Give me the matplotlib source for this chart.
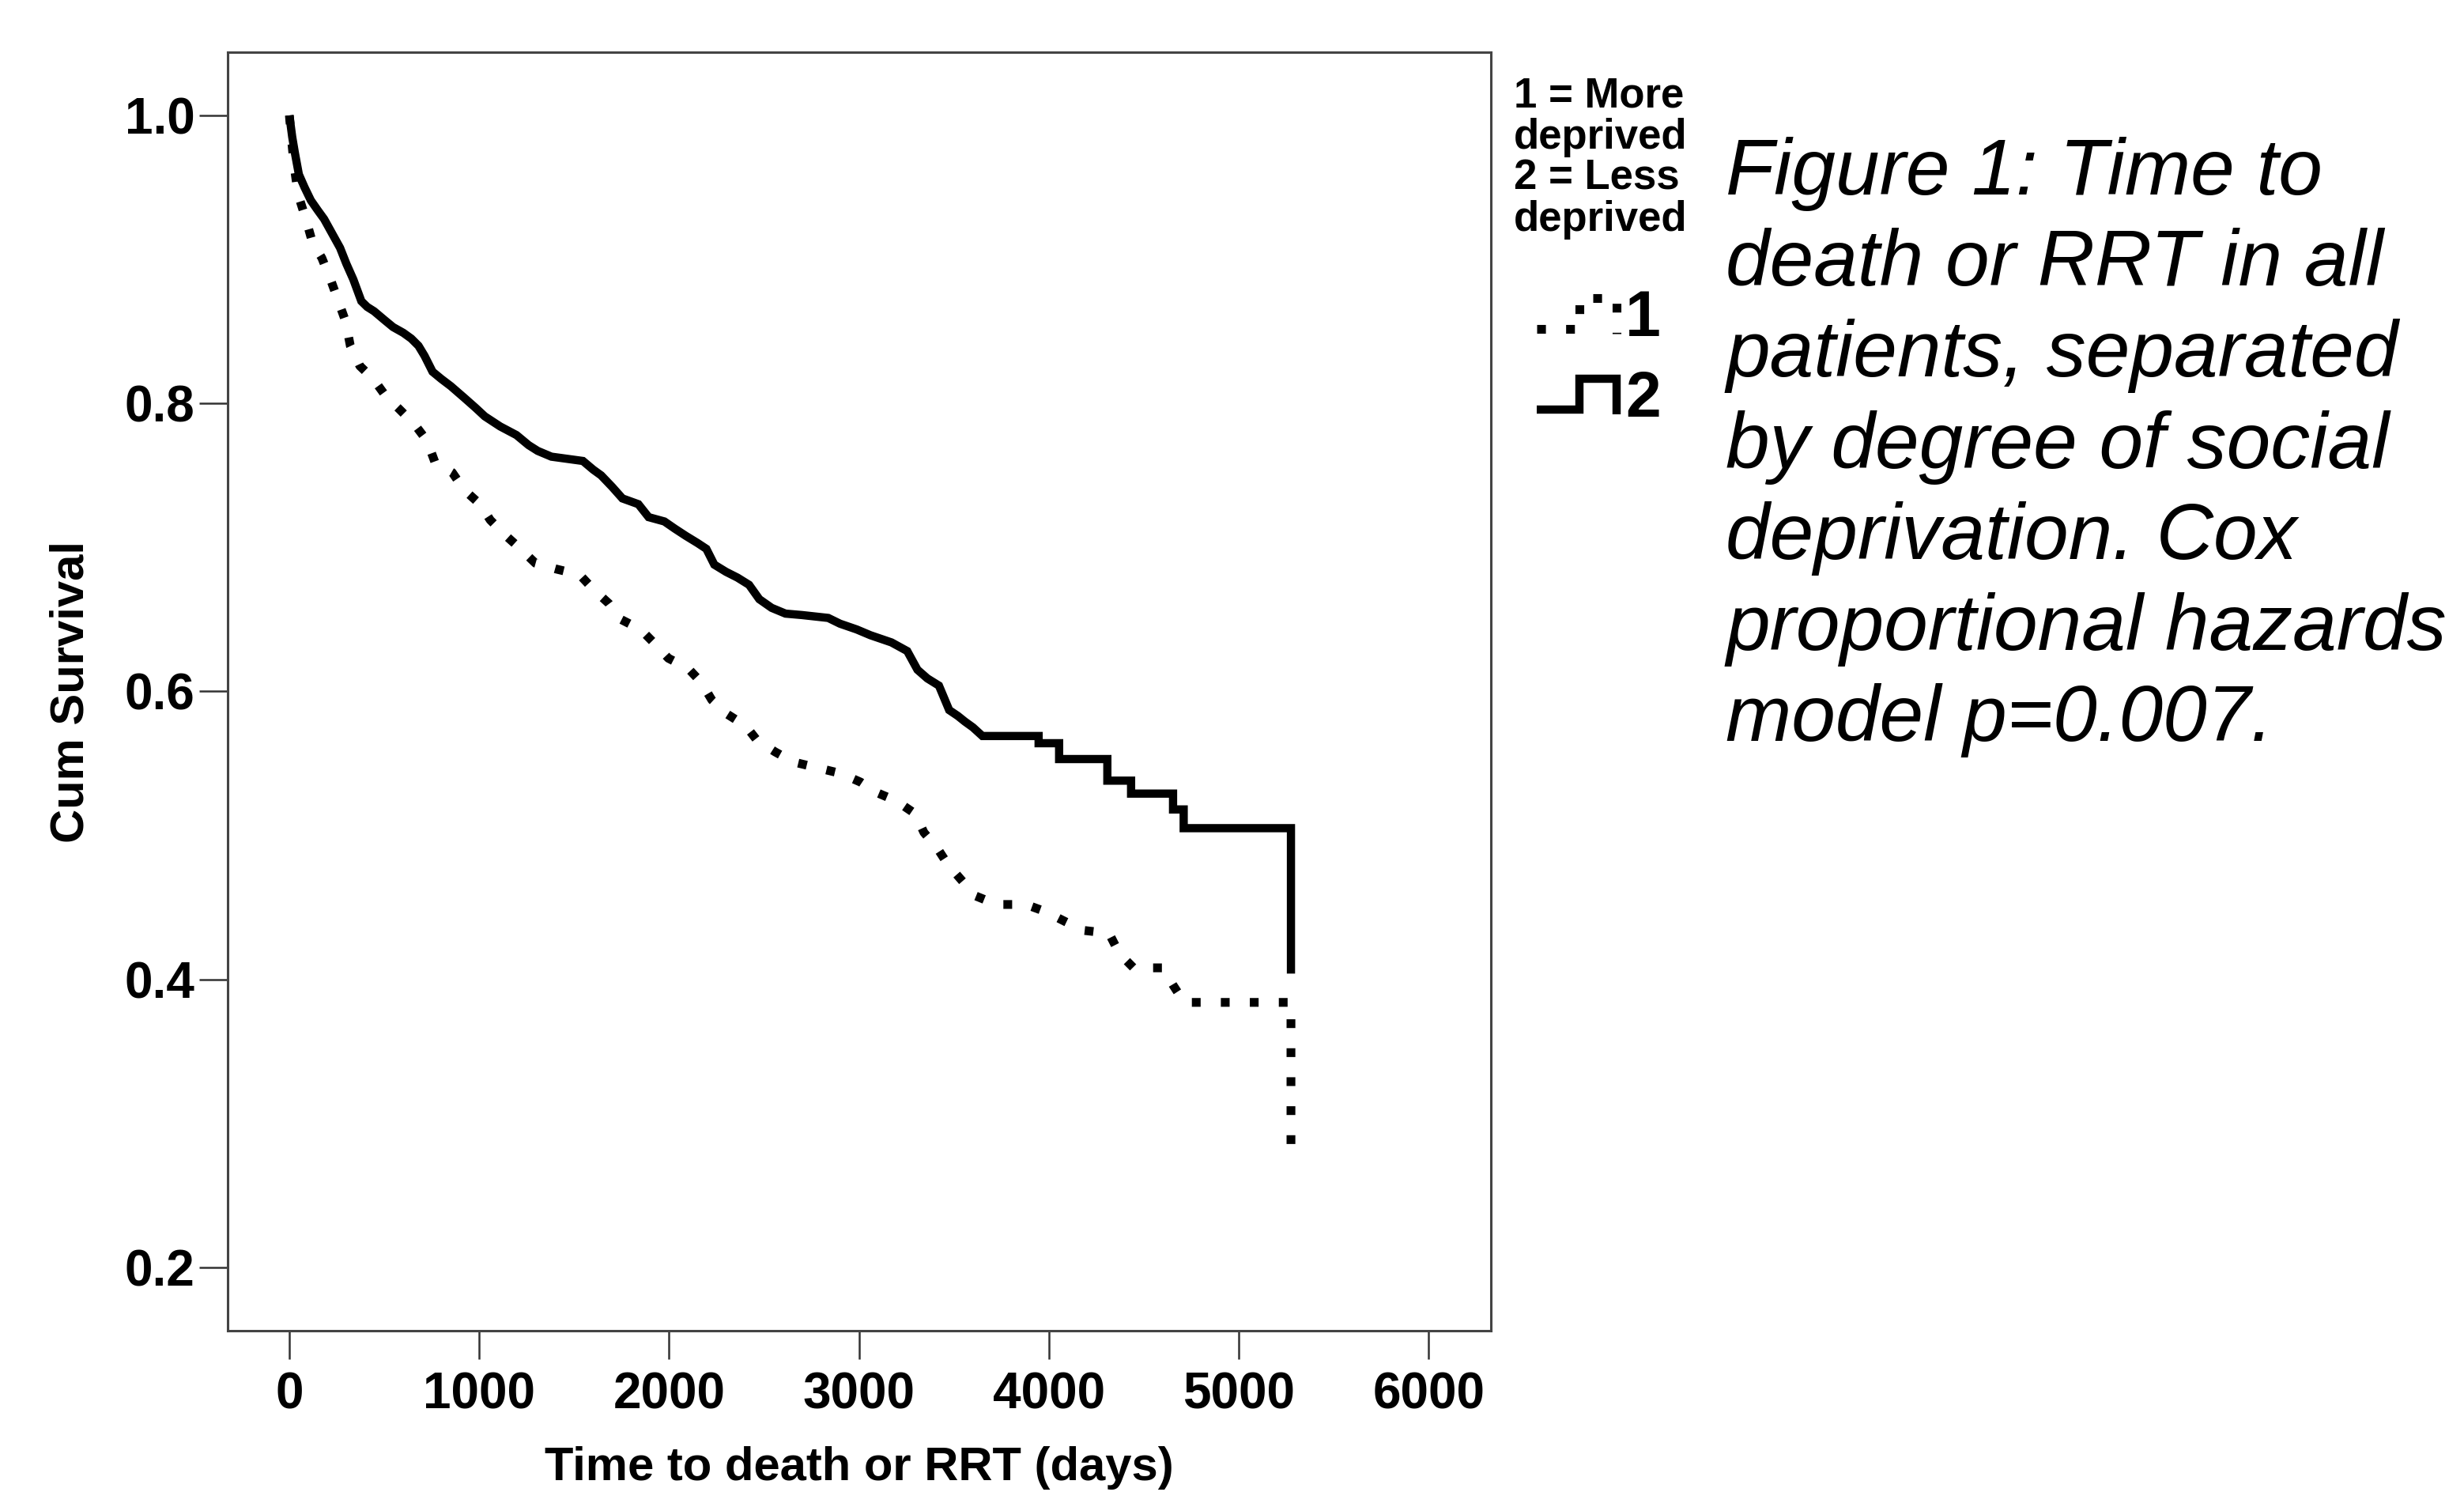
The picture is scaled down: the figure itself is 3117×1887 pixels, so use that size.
import matplotlib
matplotlib.use("Agg")
import matplotlib.pyplot as plt
from matplotlib.lines import Line2D
from matplotlib.legend_handler import HandlerBase

plt.rcParams['font.family'] = ['Liberation Sans', 'DejaVu Sans']

# ---------------- data ----------------
# group 1 = More deprived (dotted); tail steps given by repeated times
time_more = [0, 10, 25, 46, 87, 121, 171, 217, 258, 296, 321, 371, 442, 508, 579,
             662, 725, 767, 858, 920, 1004, 1058, 1133, 1217, 1296, 1404, 1529, 1600,
             1683, 1746, 1850, 1925, 1996, 2100, 2171, 2225, 2308, 2404, 2463, 2558,
             2654, 2779, 2904, 3008, 3088, 3196, 3296, 3342, 3413, 3467, 3546, 3613,
             3725, 3879, 3983, 4088, 4183, 4317, 4371, 4446, 4600, 4654, 4713, 5275,
             5275]
surv_more = [1.0, 0.985, 0.965, 0.945, 0.928, 0.912, 0.901, 0.886, 0.871, 0.857, 0.840,
             0.826, 0.817, 0.805, 0.796, 0.785, 0.774, 0.759, 0.752, 0.740, 0.730, 0.719,
             0.709, 0.699, 0.689, 0.685, 0.681, 0.671, 0.661, 0.650, 0.643, 0.633, 0.623,
             0.616, 0.606, 0.594, 0.584, 0.576, 0.566, 0.558, 0.551, 0.547, 0.543, 0.537,
             0.530, 0.524, 0.515, 0.502, 0.491, 0.480, 0.468, 0.458, 0.452, 0.452, 0.447,
             0.440, 0.434, 0.432, 0.418, 0.408, 0.408, 0.396, 0.384, 0.384, 0.280]

# group 2 = Less deprived (solid); tail steps given by repeated times
time_less = [0, 15, 29, 50, 80, 113, 150, 183, 225, 267, 300, 337, 379, 410, 446, 500,
             546, 600, 642, 680, 712, 754, 800, 850, 920, 980, 1029, 1110, 1196, 1260,
             1308, 1380, 1546, 1600, 1642, 1700, 1754, 1838, 1892, 1975, 2030, 2088,
             2150, 2196, 2238, 2300, 2360, 2421, 2475, 2540, 2613, 2700, 2838, 2900,
             2988, 3060, 3171, 3254, 3308, 3360, 3421, 3475, 3520, 3558, 3600, 3650,
             3946, 3946, 4054, 4054, 4308, 4308, 4433, 4433, 4654, 4654, 4710, 4710,
             5275, 5275]
surv_less = [1.0, 0.985, 0.974, 0.959, 0.950, 0.941, 0.934, 0.928, 0.918, 0.908, 0.897,
             0.886, 0.871, 0.867, 0.864, 0.858, 0.853, 0.849, 0.845, 0.840, 0.833, 0.822,
             0.817, 0.812, 0.804, 0.797, 0.791, 0.784, 0.778, 0.771, 0.767, 0.763, 0.760,
             0.754, 0.750, 0.742, 0.734, 0.730, 0.721, 0.718, 0.713, 0.708, 0.703, 0.699,
             0.688, 0.683, 0.679, 0.674, 0.664, 0.658, 0.654, 0.653, 0.651, 0.647, 0.643,
             0.639, 0.634, 0.628, 0.615, 0.609, 0.604, 0.587, 0.583, 0.579, 0.575, 0.569,
             0.569, 0.564, 0.564, 0.553, 0.553, 0.538, 0.538, 0.529, 0.529, 0.518, 0.518,
             0.505, 0.505, 0.404]

group_labels = ['1', '2']
legend_title = '1 = More\ndeprived\n2 = Less\ndeprived'
x_ticks = [0, 1000, 2000, 3000, 4000, 5000, 6000]
y_ticks = [0.2, 0.4, 0.6, 0.8, 1.0]
x_label = 'Time to death or RRT (days)'
y_label = 'Cum Survival'
caption = ("Figure 1: Time to\ndeath or RRT in all\npatients, separated\n"
           "by degree of social\ndeprivation. Cox\nproportional hazards\n"
           "model p=0.007.")

# ---------------- figure ----------------
W, H = 3117, 1887
fig = plt.figure(figsize=(W / 100, H / 100), dpi=100)
fig.patch.set_facecolor('white')

ax_l, ax_r, ax_t, ax_b = 288, 1886, 66, 1683
ax = fig.add_axes([ax_l / W, 1 - ax_b / H, (ax_r - ax_l) / W, (ax_b - ax_t) / H])

l1, = ax.plot(time_more, surv_more, color='black', lw=8,
              linestyle=(0, (1.0, 2.3)), dash_capstyle='butt')
l2, = ax.plot(time_less, surv_less, color='black', lw=7.5,
              solid_capstyle='butt', solid_joinstyle='miter')

ax.set_xlim(-325, 6328)
ax.set_ylim(0.156, 1.0439)
ax.set_xticks(x_ticks)
ax.set_xticklabels([str(v) for v in x_ticks])
ax.set_yticks(y_ticks)
ax.set_yticklabels([f'{v:.1f}' for v in y_ticks])
ax.tick_params(axis='both', direction='out', length=26, width=1.8, color='#333333',
               labelsize=46)
ax.tick_params(axis='x', pad=11)
ax.tick_params(axis='y', pad=4)
for lbl in ax.get_xticklabels() + ax.get_yticklabels():
    lbl.set_fontweight('bold')
for sp in ax.spines.values():
    sp.set_color('#444444')
    sp.set_linewidth(2.2)

ax.set_xlabel(x_label, fontsize=43, fontweight='bold', labelpad=25)
ax.set_ylabel(y_label, fontsize=43, fontweight='bold', labelpad=29)


# ---------------- legend ----------------
class PulseHandler(HandlerBase):
    def create_artists(self, legend, orig_handle, xdescent, ydescent, width, height,
                       fontsize, trans):
        x0 = -xdescent
        y0 = -ydescent
        xa = x0 + 0.215 * width
        xb = x0 + 0.62 * width
        xc = x0 + 0.97 * width
        lo = y0 + 0.12 * height
        hi = y0 + 0.88 * height
        ln = Line2D([xa, xb, xb, xc, xc], [lo, lo, hi, hi, y0])
        ln.update_from(orig_handle)
        ln.set_drawstyle('default')
        ln.set_clip_on(False)
        ln.set_clip_path(None)
        ln.set_clip_box(None)
        ln.set_transform(trans)
        return [ln]


fig.text(1915 / W, 1 - 97 / H, legend_title, fontsize=38, fontweight='bold',
         va='top', ha='left', linespacing=1.05)

leg = fig.legend([l1, l2], group_labels,
                 handler_map={l1: PulseHandler(), l2: PulseHandler()},
                 loc='upper left', bbox_to_anchor=(1915 / W, 1 - 366 / H),
                 frameon=False, prop={'weight': 'bold', 'size': 58},
                 handlelength=1.67, handleheight=0.6, handletextpad=0.08,
                 labelspacing=0.32, borderpad=0, borderaxespad=0)

# ---------------- caption ----------------
fig.text(2183 / W, 1 - 173 / H, caption, fontsize=72, style='italic',
         va='top', ha='left', linespacing=1.29)

fig.savefig('out.png', dpi=100, facecolor='white')
